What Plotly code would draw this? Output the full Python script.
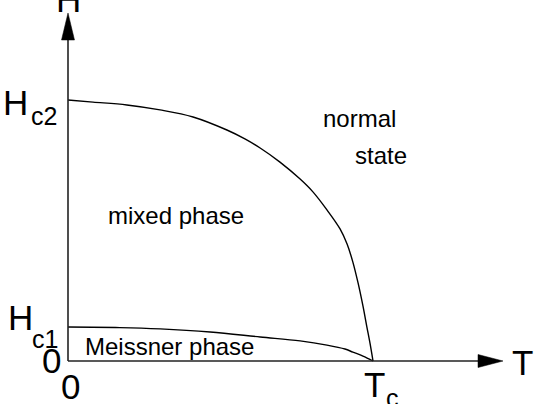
import plotly.graph_objects as go

# ---- data (T in units of Tc, H in units of Hc2) ----
hc2_T = [0.0, 0.082, 0.193, 0.302, 0.410, 0.521, 0.580, 0.630, 0.695, 0.761, 0.803,
         0.849, 0.892, 0.915, 0.934, 0.951, 0.967, 0.980, 0.990, 1.0]
hc2_H = [1.0, 0.992, 0.981, 0.962, 0.935, 0.885, 0.851, 0.816, 0.762, 0.697, 0.648,
         0.579, 0.506, 0.448, 0.379, 0.299, 0.211, 0.130, 0.069, 0.0]
hc1_T = [0.0, 0.170, 0.302, 0.466, 0.630, 0.761, 0.849, 0.908, 0.934, 0.967, 1.0]
hc1_H = [0.130, 0.128, 0.123, 0.111, 0.092, 0.077, 0.061, 0.046, 0.034, 0.019, 0.0]

W, H = 534, 404
OX, OY = 68, 361          # origin in pixels
SX, SY = 305.0, 261.0     # pixels per unit

def dx(px):
    return (px - OX) / SX

def dy(py):
    return (OY - py) / SY

FONT = "Liberation Sans, Arial, Helvetica, sans-serif"

fig = go.Figure()
for tx, hy in ((hc2_T, hc2_H), (hc1_T, hc1_H)):
    fig.add_trace(go.Scatter(x=tx, y=hy, mode="lines",
                             line=dict(color="black", width=1.4, shape="spline", smoothing=1.0),
                             hoverinfo="skip"))

# axes with arrowheads
T_END = dx(503)
H_END = dy(13)
AL_X, AW_X = 25 / SX, 6.5 / SY
AL_Y, AW_Y = 27 / SY, 6.5 / SX
shapes = [
    dict(type="line", x0=0, y0=0, x1=T_END - AL_X * 0.8, y1=0, line=dict(color="#222", width=1.6)),
    dict(type="line", x0=0, y0=0, x1=0, y1=H_END - AL_Y * 0.8, line=dict(color="#222", width=1.6)),
    dict(type="path", path=f"M {T_END} 0 L {T_END - AL_X} {AW_X} L {T_END - AL_X} {-AW_X} Z",
         fillcolor="black", line=dict(color="black", width=0.5)),
    dict(type="path", path=f"M 0 {H_END} L {AW_Y} {H_END - AL_Y} L {-AW_Y} {H_END - AL_Y} Z",
         fillcolor="black", line=dict(color="black", width=0.5)),
]

def lab(text, px, py, size):
    return dict(text=text, x=px / W, y=1 - py / H, xref="paper", yref="paper",
                xanchor="center", yanchor="middle", showarrow=False,
                font=dict(family=FONT, size=size, color="black"))

annotations = [
    lab("H", 68, -0.5, 35),
    lab("H", 15, 102.5, 35), lab("c2", 43.5, 116, 25),
    lab("H", 20, 317.5, 35), lab("c1", 45, 338.5, 25),
    lab("0", 51.5, 360.5, 35),
    lab("0", 70.5, 386.5, 35),
    lab("T", 522, 362.5, 35),
    lab("T", 374, 384.5, 35), lab("c", 392.5, 398, 25),
    lab("normal", 359, 118, 24),
    lab("state", 381, 155, 24),
    lab("mixed phase", 176, 215, 24),
    lab("Meissner phase", 169, 346, 24),
]

fig.update_layout(
    width=W, height=H, margin=dict(l=0, r=0, t=0, b=0),
    paper_bgcolor="white", plot_bgcolor="white", showlegend=False,
    xaxis=dict(range=[dx(0), dx(W)], visible=False, fixedrange=True),
    yaxis=dict(range=[dy(H), dy(0)], visible=False, fixedrange=True),
    shapes=shapes, annotations=annotations,
)
fig.write_html("out.html")
